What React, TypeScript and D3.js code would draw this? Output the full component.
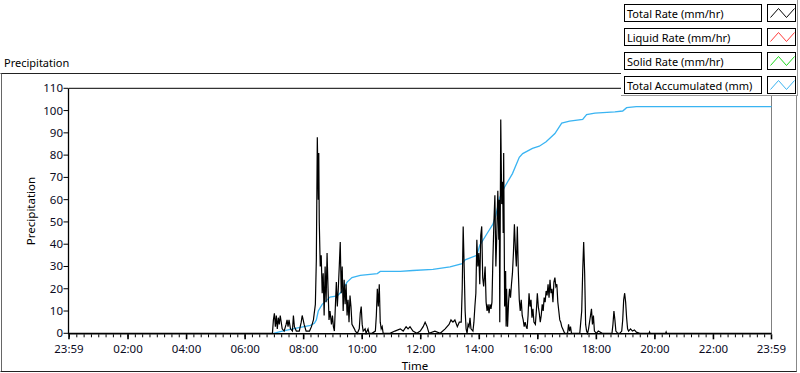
import React, { useEffect, useRef } from "react";
import * as d3 from "d3";

// Total rate (mm/hr)
const totalRate: [string, number][] = [
  ["23:59", 0], ["06:52", 0], ["06:56", 0], ["06:58", 6], ["07:00", 9], ["07:02", 3], ["07:04", 8],
  ["07:06", 2], ["07:08", 7], ["07:10", 4], ["07:12", 8], ["07:16", 2], ["07:20", 1], ["07:24", 4],
  ["07:26", 6], ["07:28", 3], ["07:30", 6], ["07:33", 2], ["07:37", 1], ["07:39", 8], ["07:41", 3],
  ["07:45", 1], ["07:51", 1], ["07:55", 5], ["07:57", 8], ["08:01", 4], ["08:05", 1], ["08:12", 1],
  ["08:16", 3], ["08:20", 6], ["08:24", 13], ["08:26", 33], ["08:28", 88], ["08:30", 60], ["08:31", 81],
  ["08:32", 50], ["08:34", 30], ["08:36", 35], ["08:38", 18], ["08:40", 27], ["08:42", 8], ["08:44", 30],
  ["08:46", 14], ["08:48", 36], ["08:50", 20], ["08:52", 6], ["08:54", 10], ["08:57", 4], ["08:59", 8],
  ["09:01", 3], ["09:03", 1], ["09:07", 23], ["09:09", 12], ["09:11", 20], ["09:13", 30], ["09:15", 41],
  ["09:17", 18], ["09:19", 30], ["09:21", 10], ["09:23", 24], ["09:25", 13], ["09:27", 22], ["09:29", 8],
  ["09:31", 15], ["09:33", 5], ["09:35", 17], ["09:37", 12], ["09:39", 4], ["09:44", 2], ["09:46", 1],
  ["09:50", 0], ["09:54", 2], ["09:56", 9], ["09:58", 12], ["10:00", 4], ["10:02", 1], ["10:06", 2],
  ["10:08", 0], ["10:12", 2], ["10:14", 0], ["10:20", 0], ["10:27", 1], ["10:29", 8], ["10:31", 20],
  ["10:33", 12], ["10:35", 22], ["10:37", 5], ["10:39", 2], ["10:41", 3], ["10:43", 0], ["10:57", 0],
  ["11:07", 1], ["11:18", 2], ["11:24", 1], ["11:30", 3], ["11:34", 2], ["11:38", 3], ["11:44", 1],
  ["11:52", 0], ["11:59", 1], ["12:05", 3], ["12:09", 5], ["12:13", 3], ["12:17", 0], ["12:29", 1],
  ["12:40", 0], ["12:50", 2], ["12:58", 4], ["13:02", 6], ["13:06", 5], ["13:10", 6], ["13:15", 3],
  ["13:19", 5], ["13:23", 5], ["13:25", 20], ["13:27", 48], ["13:29", 30], ["13:31", 10], ["13:33", 2],
  ["13:35", 0], ["13:37", 4], ["13:39", 3], ["13:41", 7], ["13:43", 2], ["13:47", 1], ["13:49", 5],
  ["13:51", 12], ["13:53", 18], ["13:55", 42], ["13:57", 30], ["13:59", 36], ["14:01", 22], ["14:03", 44],
  ["14:05", 48], ["14:07", 25], ["14:09", 21], ["14:12", 30], ["14:14", 14], ["14:16", 10], ["14:18", 13],
  ["14:20", 9], ["14:22", 13], ["14:24", 11], ["14:26", 14], ["14:28", 34], ["14:30", 50], ["14:32", 62],
  ["14:34", 30], ["14:36", 45], ["14:38", 64], ["14:40", 42], ["14:41", 60], ["14:42", 5], ["14:44", 96],
  ["14:46", 58], ["14:48", 68], ["14:49", 45], ["14:50", 81], ["14:52", 12], ["14:54", 28], ["14:55", 3],
  ["14:56", 20], ["14:58", 3], ["15:00", 14], ["15:02", 20], ["15:04", 16], ["15:06", 22], ["15:08", 27],
  ["15:10", 36], ["15:12", 49], ["15:14", 38], ["15:16", 30], ["15:18", 48], ["15:20", 28], ["15:22", 15],
  ["15:24", 10], ["15:26", 15], ["15:28", 8], ["15:30", 6], ["15:32", 3], ["15:34", 5], ["15:36", 3],
  ["15:38", 2], ["15:40", 8], ["15:42", 18], ["15:44", 12], ["15:46", 15], ["15:48", 7], ["15:50", 11],
  ["15:52", 5], ["15:55", 4], ["15:57", 10], ["15:59", 18], ["16:01", 12], ["16:03", 9], ["16:05", 5],
  ["16:07", 8], ["16:09", 13], ["16:11", 10], ["16:13", 16], ["16:15", 14], ["16:17", 19], ["16:19", 17],
  ["16:21", 22], ["16:23", 16], ["16:25", 24], ["16:27", 18], ["16:29", 20], ["16:31", 14], ["16:33", 23],
  ["16:35", 25], ["16:37", 21], ["16:39", 22], ["16:41", 14], ["16:43", 10], ["16:45", 6], ["16:47", 5],
  ["16:49", 3], ["16:51", 2], ["16:55", 0], ["17:01", 0], ["17:03", 4], ["17:05", 1], ["17:07", 3],
  ["17:09", 0], ["17:26", 0], ["17:28", 5], ["17:30", 10], ["17:32", 28], ["17:34", 41], ["17:36", 27],
  ["17:38", 4], ["17:40", 1], ["17:42", 0], ["17:44", 2], ["17:46", 5], ["17:48", 8], ["17:50", 11],
  ["17:52", 4], ["17:54", 8], ["17:56", 1], ["18:00", 0], ["18:04", 1], ["18:12", 0], ["18:32", 0],
  ["18:34", 4], ["18:36", 10], ["18:38", 6], ["18:40", 1], ["18:44", 0], ["18:48", 0], ["18:52", 1],
  ["18:54", 6], ["18:56", 15], ["18:58", 18], ["19:00", 14], ["19:02", 7], ["19:04", 2], ["19:06", 1],
  ["19:10", 2], ["19:14", 1], ["19:18", 1.5], ["19:22", 0.5], ["19:29", 0], ["19:48", 0], ["19:49", 0.6],
  ["19:50", 0], ["20:22", 0], ["20:23", 0.6], ["20:24", 0], ["23:59", 0],
];

// Total accumulated (mm)
const totalAccumulated: [string, number][] = [
  ["06:58", 0], ["07:12", 0.8], ["07:33", 1.8], ["07:53", 2.7], ["08:14", 3.6], ["08:22", 4.5],
  ["08:26", 6], ["08:30", 10], ["08:38", 13], ["08:48", 15], ["08:54", 16.3], ["09:09", 16.8],
  ["09:19", 19], ["09:29", 23], ["09:39", 25], ["09:56", 26], ["10:31", 26.8], ["10:37", 27.8],
  ["11:18", 27.8], ["11:44", 28.2], ["12:25", 28.7], ["13:00", 29.8], ["13:25", 31.3], ["13:31", 33],
  ["13:55", 35], ["14:01", 39.5], ["14:16", 44.8], ["14:28", 49], ["14:34", 53], ["14:42", 61],
  ["14:52", 65.7], ["15:08", 71.7], ["15:22", 79], ["15:29", 80.7], ["15:49", 83], ["16:03", 84],
  ["16:17", 86], ["16:35", 89.7], ["16:49", 94.4], ["17:05", 95.3], ["17:32", 96], ["17:40", 98.2],
  ["17:57", 98.9], ["18:38", 99.4], ["18:54", 99.8], ["19:02", 101.3], ["19:22", 101.8], ["23:59", 101.8],
];

const legendItems = [
  { label: "Total Rate (mm/hr)", color: "#000000" },
  { label: "Liquid Rate (mm/hr)", color: "#ff3b3b" },
  { label: "Solid Rate (mm/hr)", color: "#1ed81e" },
  { label: "Total Accumulated (mm)", color: "#3ab4f2" },
];

const yTicks = [0, 10, 20, 30, 40, 50, 60, 70, 80, 90, 100, 110];
const xTickLabels = ["23:59", "02:00", "04:00", "06:00", "08:00", "10:00", "12:00", "14:00", "16:00", "18:00", "20:00", "22:00", "23:59"];

const FONT = "'Segoe UI', 'Noto Sans', 'DejaVu Sans', sans-serif";
const startTime = new Date(2024, 0, 1, 23, 59);
const endTime = new Date(2024, 0, 2, 23, 59);

// first "23:59" of the rate series is the start, every other time belongs to the next day
const toDate = (s: string, i: number, arr: [string, number][]) => {
  const [h, m] = s.split(":").map(Number);
  if (s === "23:59") return i === 0 && arr !== totalAccumulated ? startTime : endTime;
  return new Date(2024, 0, 2, h, m);
};

const App: React.FC = () => {
  const svgRef = useRef<SVGSVGElement | null>(null);

  useEffect(() => {
    document.body.style.margin = "0";
    if (!svgRef.current) return;
    const svg = d3.select(svgRef.current);
    svg.selectAll("*").remove();

    const left = 69, right = 771.5, top = 88.3, bottom = 333.3;

    const x = d3.scaleTime().domain([startTime, endTime]).range([left, right]);
    const y = d3.scaleLinear().domain([0, 110]).range([bottom, top]);

    svg.append("rect").attr("width", 800).attr("height", 373).attr("fill", "#ffffff");

    // outer frame
    svg.append("path").attr("d", "M0.5,73.5H621").attr("stroke", "#222").attr("fill", "none");
    svg.append("path").attr("d", "M1.5,73.5V371.5").attr("stroke", "#666").attr("fill", "none");
    svg.append("path").attr("d", "M0.5,371.5H797").attr("stroke", "#222").attr("fill", "none");
    svg.append("path").attr("d", "M796.5,95V371.5").attr("stroke", "#888").attr("fill", "none");

    svg.append("text").attr("x", 4).attr("y", 67).attr("font-family", FONT).attr("font-size", 11)
      .attr("fill", "#000").text("Precipitation");

    // plot frame
    svg.append("path").attr("d", `M68.5,${top}H${right}`).attr("stroke", "#000").attr("fill", "none");
    svg.append("path").attr("d", `M${right},${top}V${bottom}`).attr("stroke", "#808080").attr("fill", "none");

    // series
    const line = d3.line<[Date, number]>().x((d) => x(d[0])).y((d) => y(d[1]));
    const acc = totalAccumulated.map((d, i, a) => [toDate(d[0], i, a), d[1]] as [Date, number]);
    const rate = totalRate.map((d, i, a) => [toDate(d[0], i, a), d[1]] as [Date, number]);

    svg.append("path").datum(acc).attr("fill", "none").attr("stroke", "#3ab4f2").attr("stroke-width", 1.3).attr("d", line);
    svg.append("path").datum(rate).attr("fill", "none").attr("stroke", "#000").attr("stroke-width", 1.2)
      .attr("d", line);

    // axes
    const axisColor = "#000";
    svg.append("path").attr("d", `M68.5,${top}V${bottom + 1}`).attr("stroke", axisColor).attr("stroke-width", 1.3);
    svg.append("path").attr("d", `M68,${bottom + 0.5}H${right}`).attr("stroke", axisColor).attr("stroke-width", 1.6);

    const yg = svg.append("g");
    yTicks.forEach((v) => {
      yg.append("line").attr("x1", 63.5).attr("x2", 68).attr("y1", y(v)).attr("y2", y(v)).attr("stroke", axisColor);
      yg.append("text").attr("x", 63).attr("y", y(v) + 4).attr("text-anchor", "end")
        .attr("font-family", FONT).attr("font-size", 11.5).attr("fill", "#0b0b1e").text(String(v));
    });

    const minor = d3.timeMinute.every(15)!.range(startTime, endTime);
    svg.append("g").selectAll("line").data(minor).enter().append("line")
      .attr("x1", (d) => x(d)).attr("x2", (d) => x(d))
      .attr("y1", bottom + 1).attr("y2", bottom + 4).attr("stroke", axisColor);

    const majorTimes = xTickLabels.map((s, i) => {
      if (i === 0) return startTime;
      if (i === xTickLabels.length - 1) return endTime;
      const [h, m] = s.split(":").map(Number);
      return new Date(2024, 0, 2, h, m);
    });
    const xg = svg.append("g");
    majorTimes.forEach((t, i) => {
      xg.append("line").attr("x1", x(t)).attr("x2", x(t)).attr("y1", bottom + 1).attr("y2", bottom + 6)
        .attr("stroke", axisColor).attr("stroke-width", 1.6);
      xg.append("text").attr("x", x(t)).attr("y", 353).attr("text-anchor", "middle")
        .attr("font-family", FONT).attr("font-size", 11.5).attr("fill", "#0b0b1e").text(xTickLabels[i]);
    });

    svg.append("text").attr("x", 415).attr("y", 370).attr("text-anchor", "middle")
      .attr("font-family", FONT).attr("font-size", 11.5).attr("fill", "#000").text("Time");
    svg.append("text").attr("transform", "translate(35,211) rotate(-90)").attr("text-anchor", "middle")
      .attr("font-family", FONT).attr("font-size", 11.5).attr("fill", "#000").text("Precipitation");

    // legend panel
    const lg = svg.append("g");
    lg.append("rect").attr("x", 621).attr("y", 0).attr("width", 176).attr("height", 95).attr("fill", "#ffffff");
    lg.append("path").attr("d", "M621,95.5H797").attr("stroke", "#999");
    lg.append("path").attr("d", "M797.5,0V96").attr("stroke", "#999");
    legendItems.forEach((item, i) => {
      const ty = 4.5 + i * 24;
      lg.append("rect").attr("x", 624.5).attr("y", ty).attr("width", 137).attr("height", 17)
        .attr("fill", "#fff").attr("stroke", "#000");
      lg.append("text").attr("x", 627).attr("y", ty + 13).attr("font-family", FONT).attr("font-size", 11)
        .attr("fill", "#000").text(item.label);
      lg.append("rect").attr("x", 767.5).attr("y", ty).attr("width", 28).attr("height", 17)
        .attr("fill", "#fff").attr("stroke", "#000");
      const sx = 767.5;
      lg.append("polyline")
        .attr("points", [[sx + 3, ty + 13], [sx + 11, ty + 4], [sx + 19, ty + 13], [sx + 27, ty + 4]].map((p) => p.join(",")).join(" "))
        .attr("fill", "none").attr("stroke", item.color).attr("stroke-width", 1);
    });
  }, []);

  return <svg ref={svgRef} width={800} height={373} style={{ display: "block" }} />;
};

export default App;
